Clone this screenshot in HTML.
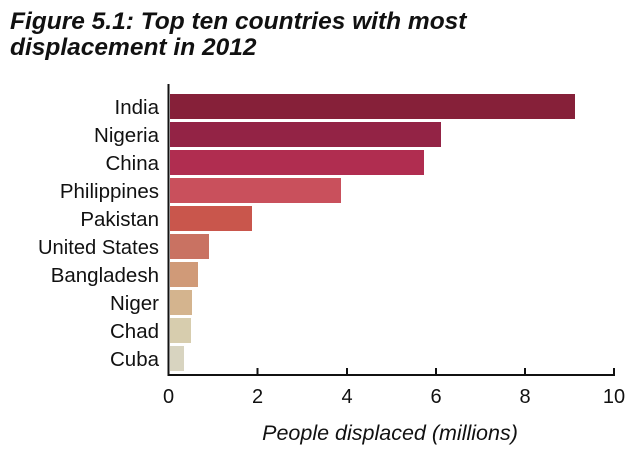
<!DOCTYPE html>
<html><head><style>
body{margin:0;background:#fff;width:640px;height:457px;overflow:hidden;font-family:"Liberation Sans",sans-serif}
</style></head><body>
<svg width="640" height="457" xmlns="http://www.w3.org/2000/svg" font-family="Liberation Sans, sans-serif">
<text x="10" y="29" font-size="24.5" font-weight="bold" font-style="italic" fill="#111">Figure 5.1: Top ten countries with most</text>
<text x="10" y="55" font-size="24.5" font-weight="bold" font-style="italic" fill="#111">displacement in 2012</text>
<g>
<rect x="170" y="94" width="405" height="25" fill="#862039"/>
<rect x="170" y="122" width="271" height="25" fill="#932345"/>
<rect x="170" y="150" width="254" height="25" fill="#b02d50"/>
<rect x="170" y="178" width="171" height="25" fill="#c9505c"/>
<rect x="170" y="206" width="82" height="25" fill="#c9564c"/>
<rect x="170" y="234" width="39" height="25" fill="#c97262"/>
<rect x="170" y="262" width="28" height="25" fill="#d09a78"/>
<rect x="170" y="290" width="22" height="25" fill="#d4b48e"/>
<rect x="170" y="318" width="21" height="25" fill="#d7cdae"/>
<rect x="170" y="346" width="14" height="25" fill="#d8d4c0"/>
</g>
<g stroke="#111" stroke-width="2" fill="none">
<line x1="168.5" y1="84" x2="168.5" y2="376"/>
<line x1="167.5" y1="375" x2="615" y2="375"/>
<line x1="257.5" y1="368" x2="257.5" y2="376"/>
<line x1="347" y1="368" x2="347" y2="376"/>
<line x1="436" y1="368" x2="436" y2="376"/>
<line x1="525" y1="368" x2="525" y2="376"/>
<line x1="614" y1="368" x2="614" y2="376"/>
</g>
<g font-size="20.5" fill="#111" text-anchor="end">
<text x="159" y="114">India</text>
<text x="159" y="142">Nigeria</text>
<text x="159" y="170">China</text>
<text x="159" y="198">Philippines</text>
<text x="159" y="226">Pakistan</text>
<text x="159" y="254" textLength="121" lengthAdjust="spacingAndGlyphs">United States</text>
<text x="159" y="282">Bangladesh</text>
<text x="159" y="310">Niger</text>
<text x="159" y="338">Chad</text>
<text x="159" y="366">Cuba</text>
</g>
<g font-size="20" fill="#111" text-anchor="middle">
<text x="168.5" y="403">0</text>
<text x="257.5" y="403">2</text>
<text x="347" y="403">4</text>
<text x="436" y="403">6</text>
<text x="525" y="403">8</text>
<text x="614" y="403">10</text>
</g>
<text x="390" y="440" font-size="21.5" font-style="italic" fill="#111" text-anchor="middle">People displaced (millions)</text>
</svg>
</body></html>
